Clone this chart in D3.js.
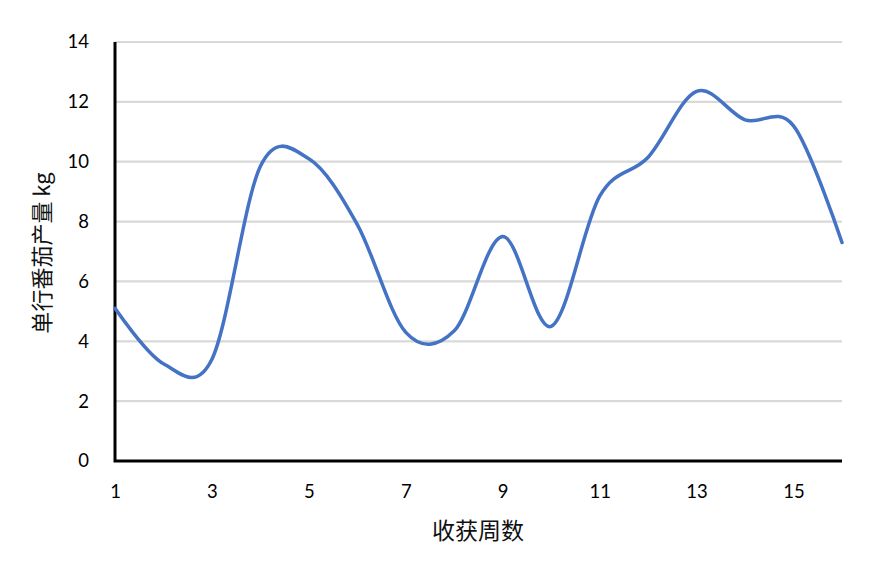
<!DOCTYPE html>
<html><head><meta charset="utf-8">
<script src="https://cdn.jsdelivr.net/npm/d3@7/dist/d3.min.js"></script>
<style>body{margin:0;background:#fff}</style>
</head><body>
<svg id="c" width="886" height="567"></svg>
<script>
const weeks = [1,2,3,4,5,6,7,8,9,10,11,12,13,14,15,16];
const yieldKg = [5.1,3.25,3.4,9.85,10.1,7.9,4.3,4.35,7.5,4.5,8.85,10.15,12.35,11.4,11.2,7.3];
const xTicks = [1,3,5,7,9,11,13,15];
const yTicks = [0,2,4,6,8,10,12,14];
const xTitle = "收获周数";
const yTitle = "单行番茄产量 kg";

const svg = d3.select("#c");
const L = 115, R = 842, T = 42, B = 461;
const x = d3.scaleLinear().domain([1,16]).range([L,R]);
const y = d3.scaleLinear().domain([0,14]).range([B,T]);
const font = "Lato, 'Noto Sans CJK SC', sans-serif";

svg.append("g").selectAll("line").data(yTicks.filter(d=>d>0)).join("line")
  .attr("x1",L).attr("x2",R).attr("y1",d=>y(d)).attr("y2",d=>y(d))
  .attr("stroke","#d9d9d9").attr("stroke-width",2.2);

const yAxis = svg.append("g").attr("transform",`translate(${L},0)`)
  .call(d3.axisLeft(y).tickValues(yTicks).tickSize(0).tickPadding(26));
yAxis.select(".domain").remove();
yAxis.selectAll("text").attr("font-family",font).attr("font-size",18.5).attr("fill","#000");

const xAxis = svg.append("g").attr("transform",`translate(0,${B})`)
  .call(d3.axisBottom(x).tickValues(xTicks).tickFormat(d3.format("d")).tickSize(0).tickPadding(24));
xAxis.select(".domain").remove();
xAxis.selectAll("text").attr("font-family",font).attr("font-size",18.5).attr("fill","#000");

svg.append("path")
  .attr("d",`M${L},${T}V${B}H${R}`)
  .attr("fill","none").attr("stroke","#000").attr("stroke-width",3);

const line = d3.line().x((d,i)=>x(weeks[i])).y(d=>y(d)).curve(d3.curveCardinal.tension(0));
svg.append("path").datum(yieldKg).attr("d",line)
  .attr("fill","none").attr("stroke","#4472C4").attr("stroke-width",3.5)
  .attr("stroke-linecap","round");

svg.append("text").attr("x",478).attr("y",539).attr("text-anchor","middle")
  .attr("font-family","'Noto Sans CJK SC', sans-serif").attr("font-size",23).attr("fill","#111")
  .text(xTitle);
svg.append("text").attr("transform","translate(50,253) rotate(-90)").attr("text-anchor","middle")
  .attr("font-family","'Noto Sans CJK SC', sans-serif").attr("font-size",22).attr("fill","#111")
  .text(yTitle);
</script>
</body></html>
